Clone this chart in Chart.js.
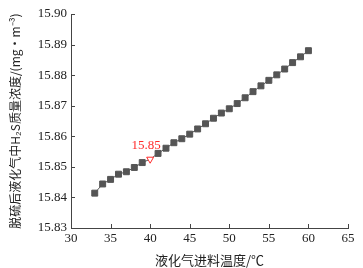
<!DOCTYPE html>
<html>
<head>
<meta charset="utf-8">
<script src="https://cdn.jsdelivr.net/npm/chart.js@4"></script>
<style>
  html, body { margin: 0; padding: 0; background: #fff; }
  #wrap { width: 363px; height: 268px; }
</style>
</head>
<body>
<div id="wrap"><canvas id="c" width="363" height="268"></canvas></div>
<script>
// ─────────────────────────────────────────────────────────────
// DATA
// ─────────────────────────────────────────────────────────────
const temps = [33, 34, 35, 36, 37, 38, 39, 40, 41, 42, 43, 44, 45, 46,
               47, 48, 49, 50, 51, 52, 53, 54, 55, 56, 57, 58, 59, 60];
const h2s = [15.8414, 15.8444, 15.8459, 15.8476, 15.8484, 15.8498, 15.8514,
             15.8525, 15.8544, 15.8561, 15.8579, 15.8592, 15.8607, 15.8624,
             15.8641, 15.8659, 15.8676, 15.8690, 15.8707, 15.8726, 15.8746,
             15.8765, 15.8783, 15.8801, 15.8820, 15.8841, 15.8860, 15.8880];
const xTicks = [30, 35, 40, 45, 50, 55, 60, 65];
const yTicks = [15.83, 15.84, 15.85, 15.86, 15.87, 15.88, 15.89, 15.90];
const markTemp = 40;
const markLabel = '15.85';

const xTitle = '液化气进料温度/℃';
const yTitle = '脱硫后液化气中H₂S质量浓度/(mg·m⁻³)';

// ─────────────────────────────────────────────────────────────
// STYLE
// ─────────────────────────────────────────────────────────────
const AXIS = '#444';
const SERIES = '#555';
const RED = '#ff2a2a';
const SERIF = "'Liberation Serif', 'DejaVu Serif', serif";
const CJK = "'Noto Sans CJK SC', sans-serif";

const markIdx = temps.indexOf(markTemp);
const styles   = temps.map((t, i) => i === markIdx ? 'triangle' : 'rect');
const rot      = temps.map((t, i) => i === markIdx ? 180 : 0);
const radii    = temps.map((t, i) => i === markIdx ? 4 : 4.2);
const fills    = temps.map((t, i) => i === markIdx ? '#fff' : SERIES);
const borders  = temps.map((t, i) => i === markIdx ? RED : SERIES);

// inward tick marks + red callout
const extras = {
  id: 'extras',
  afterDraw(chart) {
    const { ctx, chartArea: a, scales: { x, y } } = chart;
    ctx.save();
    ctx.strokeStyle = AXIS;
    ctx.lineWidth = 1;
    ctx.beginPath();
    xTicks.forEach(v => {
      const px = Math.round(x.getPixelForValue(v)) + 0.5;
      ctx.moveTo(px, a.bottom);
      ctx.lineTo(px, a.bottom - 4);
    });
    yTicks.forEach(v => {
      const py = Math.round(y.getPixelForValue(v)) + 0.5;
      ctx.moveTo(a.left, py);
      ctx.lineTo(a.left + 4, py);
    });
    ctx.stroke();

    const px = x.getPixelForValue(markTemp);
    const py = y.getPixelForValue(h2s[markIdx]);
    ctx.fillStyle = RED;
    ctx.font = `13px ${SERIF}`;
    ctx.textAlign = 'center';
    ctx.textBaseline = 'bottom';
    ctx.fillText(markLabel, px - 4, py - 7);
    ctx.restore();
  }
};

new Chart(document.getElementById('c'), {
  type: 'line',
  data: {
    datasets: [{
      data: temps.map((t, i) => ({ x: t, y: h2s[i] })),
      borderColor: SERIES,
      borderWidth: 1,
      pointStyle: styles,
      pointRotation: rot,
      pointRadius: radii,
      pointBackgroundColor: fills,
      pointBorderColor: borders,
      pointBorderWidth: 1,
      tension: 0,
      fill: false,
    }]
  },
  options: {
    responsive: false,
    animation: false,
    devicePixelRatio: 1,
    layout: { padding: { left: 0, right: 15, top: 14, bottom: 0 } },
    plugins: { legend: { display: false }, tooltip: { enabled: false } },
    scales: {
      x: {
        type: 'linear',
        min: 30, max: 65,
        afterBuildTicks: s => { s.ticks = xTicks.map(v => ({ value: v })); },
        afterFit: s => { s.height = 40; },
        grid: { display: false, drawTicks: false },
        border: { color: AXIS, width: 1 },
        ticks: { color: '#222', padding: 3, font: { family: SERIF, size: 13 } },
        title: { display: true, text: xTitle, color: '#222', padding: { top: 1, bottom: 0 },
                 font: { family: CJK, size: 13 } },
      },
      y: {
        min: 15.83, max: 15.90,
        afterBuildTicks: s => { s.ticks = yTicks.map(v => ({ value: v })); },
        afterFit: s => { s.width = 71; },
        grid: { display: false, drawTicks: false },
        border: { color: AXIS, width: 1 },
        ticks: { color: '#222', padding: 4, font: { family: SERIF, size: 13 },
                 callback: v => v.toFixed(2) },
        title: { display: true, text: yTitle, color: '#222', padding: { top: 8, bottom: 0 },
                 font: { family: CJK, size: 12 } },
      }
    }
  },
  plugins: [extras]
});
</script>
</body>
</html>
